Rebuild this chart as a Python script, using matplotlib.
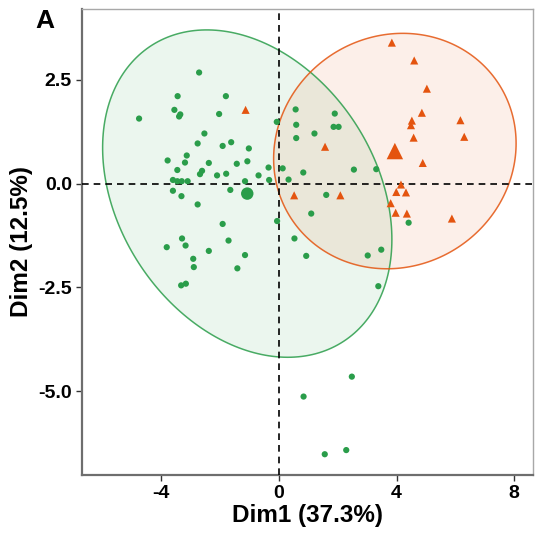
import numpy as np
import matplotlib
matplotlib.use("Agg")
import matplotlib.pyplot as plt
from matplotlib.patches import Polygon

plt.rcParams['font.family'] = ['Liberation Sans', 'DejaVu Sans']

# Individuals on the first two principal dimensions
green_x = [-2.71, -4.75, -3.44, -1.80, -3.55, -3.35, -3.39, -2.03, -0.07, 0.57,
           0.59, 1.90, 1.86, 2.03, 0.59, 1.21, -2.53, -2.76, -1.91, -1.62,
           -1.02, -3.78, -3.13, -3.19, -2.38, -1.43, -1.07, -3.45, -2.61, -2.68,
           -2.10, -1.79, -0.69, -0.35, -0.33, 0.13, 0.33, 0.83, 2.55, 3.31,
           -3.60, -3.45, -3.30, -3.10, -1.15, -3.60, -3.31, -1.65, -2.76, 1.61,
           1.10, -0.06, -1.91, 4.41, -3.29, -3.81, -3.17, -1.71, -2.38, 0.53,
           -1.15, 0.93, 3.02, 3.48, -2.91, -2.89, -1.41, -3.32, -3.16, 3.38,
           2.48, 0.84, 1.56, 2.29]
green_y = [2.68, 1.57, 2.11, 2.11, 1.78, 1.67, 1.62, 1.68, 1.49, 1.79,
           1.42, 1.69, 1.37, 1.37, 1.10, 1.21, 1.21, 0.97, 0.91, 1.00,
           0.85, 0.56, 0.68, 0.51, 0.50, 0.48, 0.54, 0.33, 0.31, 0.23,
           0.20, 0.24, 0.20, 0.39, 0.09, 0.37, 0.10, 0.27, 0.34, 0.35,
           0.09, 0.06, 0.06, 0.06, 0.06, -0.17, -0.30, -0.15, -0.50, -0.27,
           -0.72, -0.90, -0.97, -0.94, -1.32, -1.53, -1.49, -1.37, -1.62, -1.32,
           -1.72, -1.74, -1.73, -1.59, -1.81, -2.01, -2.04, -2.45, -2.41, -2.47,
           -4.65, -5.13, -6.52, -6.42]

orange_x = [-1.13, 1.57, 3.84, 4.60, 5.03, 4.86, 4.52, 4.49, 4.58, 6.17,
            6.30, 4.89, 4.15, 3.99, 4.32, 3.80, 3.97, 4.35, 5.88, 0.52, 2.09]
orange_y = [1.78, 0.89, 3.40, 2.97, 2.29, 1.71, 1.52, 1.41, 1.11, 1.53,
            1.13, 0.50, -0.02, -0.20, -0.21, -0.47, -0.70, -0.72, -0.84, -0.28, -0.28]

x_ticks = [-4, 0, 4, 8]
y_ticks = [2.5, 0.0, -2.5, -5.0]

GREEN = "#2A9D4A"
ORANGE = "#E4540F"


def norm_ellipse(x, y, level=0.90, npts=240):
    """Normal-theory data ellipse (sample covariance, F-based radius)."""
    pts = np.column_stack([x, y])
    n = len(pts)
    center = pts.mean(axis=0)
    cov = np.cov(pts, rowvar=False)
    dfd = n - 1
    fq = (dfd / 2.0) * ((1 - level) ** (-2.0 / dfd) - 1)
    radius = np.sqrt(2 * fq)
    t = np.linspace(0, 2 * np.pi, npts)
    circle = np.column_stack([np.cos(t), np.sin(t)])
    chol = np.linalg.cholesky(cov).T
    return center + radius * circle @ chol


fig = plt.figure(figsize=(5.35, 5.37), dpi=100)
ax = fig.add_axes([0.1527, 0.1155, 0.8443, 0.8677])

for gx, gy, col in [(green_x, green_y, GREEN), (orange_x, orange_y, ORANGE)]:
    ell = norm_ellipse(gx, gy)
    ax.add_patch(Polygon(ell, closed=True, facecolor=col, alpha=0.09,
                         edgecolor="none", zorder=1))
    ax.add_patch(Polygon(ell, closed=True, facecolor="none",
                         edgecolor=col, lw=1.1, alpha=0.85, zorder=2))

ax.axhline(0, color="black", lw=1.2, ls=(0, (4, 3)), zorder=3)
ax.axvline(0, color="black", lw=1.2, ls=(0, (4, 3)), zorder=3)

ax.scatter(green_x, green_y, s=20, color=GREEN, edgecolors="none", zorder=4)
ax.scatter(orange_x, orange_y, s=34, marker="^", color=ORANGE,
           edgecolors="none", zorder=4)

# Group means
ax.scatter([np.mean(green_x)], [np.mean(green_y)], s=80, color=GREEN,
           edgecolors="none", zorder=5)
ax.scatter([np.mean(orange_x)], [np.mean(orange_y)], s=140, marker="^",
           color=ORANGE, edgecolors="none", zorder=5)

ax.set_xlim(-6.70, 8.65)
ax.set_ylim(-7.02, 4.21)
ax.set_xticks(x_ticks)
ax.set_xticklabels([str(v) for v in x_ticks])
ax.set_yticks(y_ticks)
ax.set_yticklabels([f"{v:.1f}" for v in y_ticks])

for side in ["left", "bottom"]:
    ax.spines[side].set_color("#6e6e6e")
    ax.spines[side].set_linewidth(1.6)
for side in ["top", "right"]:
    ax.spines[side].set_color("#a8a8a8")
    ax.spines[side].set_linewidth(1.0)

ax.tick_params(axis="both", length=4, width=1.0, color="#333333",
               labelsize=14, pad=3)
for lab in ax.get_xticklabels() + ax.get_yticklabels():
    lab.set_fontweight("bold")

ax.set_xlabel("Dim1 (37.3%)", fontsize=17.5, fontweight="bold", labelpad=2)
ax.set_ylabel("Dim2 (12.5%)", fontsize=17.5, fontweight="bold", labelpad=4)

fig.text(0.083, 0.947, "A", fontsize=19, fontweight="bold", ha="center",
         va="baseline")

fig.savefig("out.png", dpi=100)
